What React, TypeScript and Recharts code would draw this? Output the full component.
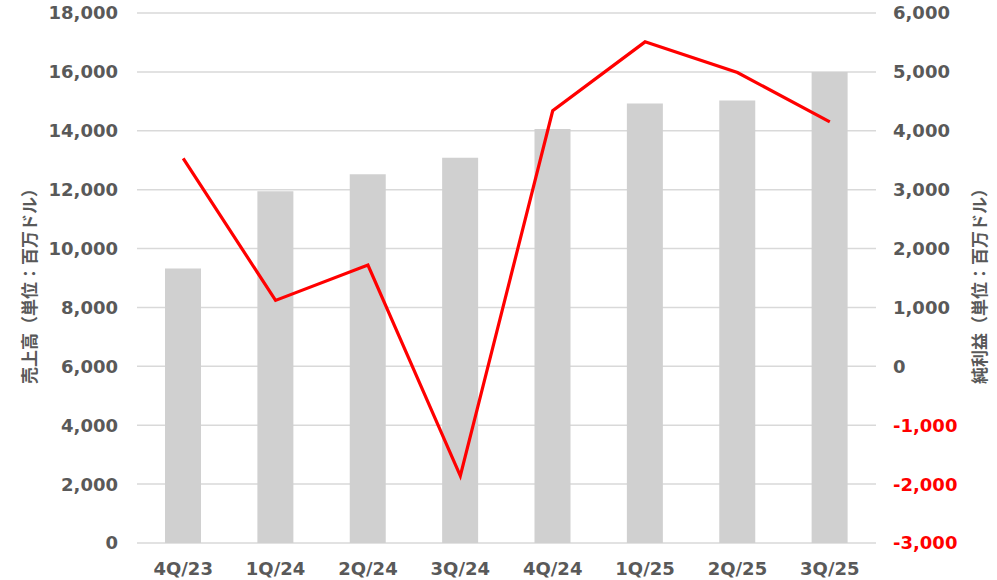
import { ComposedChart, Bar, Line, XAxis, YAxis, CartesianGrid } from 'recharts';

const quarters = ['4Q/23', '1Q/24', '2Q/24', '3Q/24', '4Q/24', '1Q/25', '2Q/25', '3Q/25'];
const revenue = [9320, 11950, 12520, 13080, 14060, 14930, 15030, 16000];
const netIncome = [3530, 1120, 1720, -1860, 4340, 5510, 4990, 4150];

const revenueTicks = [0, 2000, 4000, 6000, 8000, 10000, 12000, 14000, 16000, 18000];
const incomeTicks = [-3000, -2000, -1000, 0, 1000, 2000, 3000, 4000, 5000, 6000];

const leftLabel = '売上高（単位：百万ドル）';
const rightLabel = '純利益（単位：百万ドル）';

const GRAY_TEXT = '#595959';
const TICK_FONT = '"DejaVu Sans", Verdana, sans-serif';
const CJK_FONT = '"Noto Sans CJK JP", sans-serif';

const data = quarters.map((q, i) => ({
  name: q,
  revenue: revenue[i],
  netIncome: netIncome[i],
}));

const fmt = (v: number) => v.toLocaleString('en-US');

function RightTick(props: any) {
  const { x, y, payload } = props;
  const neg = payload.value < 0;
  return (
    <text
      x={x}
      y={y}
      dy="0.355em"
      textAnchor="start"
      fontFamily={TICK_FONT}
      fontWeight="bold"
      fontSize={18}
      fill={neg ? '#ff0000' : GRAY_TEXT}
    >
      {fmt(payload.value)}
    </text>
  );
}

function AxisTitle({ viewBox, value, offset }: any) {
  const cx = viewBox.x + offset;
  const cy = viewBox.y + viewBox.height / 2 + 4;
  return (
    <text
      x={cx}
      y={cy}
      transform={`rotate(-90 ${cx} ${cy})`}
      textAnchor="middle"
      dominantBaseline="central"
      fontFamily={CJK_FONT}
      fontWeight="bold"
      fontSize={17}
      fill={GRAY_TEXT}
    >
      {value}
    </text>
  );
}

export default function App() {
  return (
    <div style={{ position: 'absolute', left: 0, top: 0, width: 997, height: 580, background: '#fff' }}>
      <ComposedChart
        width={997}
        height={580}
        data={data}
        margin={{ top: 13, right: 0, bottom: 0, left: 0 }}
        barCategoryGap={0}
      >
        <CartesianGrid yAxisId="left" vertical={false} stroke="#d9d9d9" strokeWidth={1.5} />
        <XAxis
          dataKey="name"
          height={37}
          axisLine={false}
          tickLine={false}
          tickSize={0}
          tickMargin={19}
          tick={{ fill: GRAY_TEXT, fontFamily: TICK_FONT, fontWeight: 'bold', fontSize: 18 }}
          interval={0}
        />
        <YAxis
          yAxisId="left"
          orientation="left"
          width={137}
          domain={[0, 18000]}
          ticks={revenueTicks}
          axisLine={false}
          tickLine={false}
          tickSize={0}
          tickMargin={19}
          tickFormatter={fmt}
          tick={{ fill: GRAY_TEXT, fontFamily: TICK_FONT, fontWeight: 'bold', fontSize: 18 }}
          label={{ value: leftLabel, content: (p: any) => <AxisTitle {...p} value={leftLabel} offset={28} /> }}
        />
        <YAxis
          yAxisId="right"
          orientation="right"
          width={121}
          domain={[-3000, 6000]}
          ticks={incomeTicks}
          axisLine={false}
          tickLine={false}
          tickSize={0}
          tickMargin={17}
          tick={<RightTick />}
          label={{ value: rightLabel, content: (p: any) => <AxisTitle {...p} value={rightLabel} offset={102} /> }}
        />
        <Bar yAxisId="left" dataKey="revenue" fill="#d0d0d0" barSize={36} isAnimationActive={false} />
        <Line
          yAxisId="right"
          type="linear"
          dataKey="netIncome"
          stroke="#ff0000"
          strokeWidth={3.2}
          dot={false}
          activeDot={false}
          isAnimationActive={false}
        />
      </ComposedChart>
    </div>
  );
}
